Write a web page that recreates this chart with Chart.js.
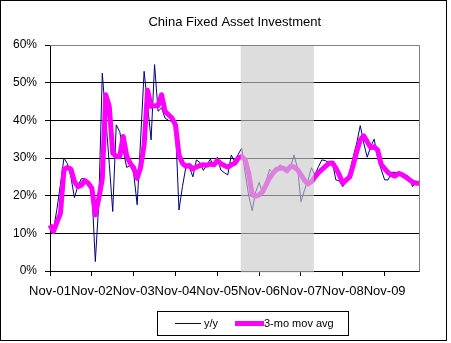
<!DOCTYPE html>
<html>
<head>
<meta charset="utf-8">
<script src="https://cdn.jsdelivr.net/npm/chart.js@4.4.1/dist/chart.umd.min.js"></script>
<style>
  html, body { margin: 0; padding: 0; background: #fff; }
</style>
</head>
<body>
<canvas id="fai" width="451" height="343"></canvas>
<script>
const months = [
  'Nov-01','Dec-01',
  'Jan-02','Feb-02','Mar-02','Apr-02','May-02','Jun-02','Jul-02','Aug-02','Sep-02','Oct-02','Nov-02','Dec-02',
  'Jan-03','Feb-03','Mar-03','Apr-03','May-03','Jun-03','Jul-03','Aug-03','Sep-03','Oct-03','Nov-03','Dec-03',
  'Jan-04','Feb-04','Mar-04','Apr-04','May-04','Jun-04','Jul-04','Aug-04','Sep-04','Oct-04','Nov-04','Dec-04',
  'Jan-05','Feb-05','Mar-05','Apr-05','May-05','Jun-05','Jul-05','Aug-05','Sep-05','Oct-05','Nov-05','Dec-05',
  'Jan-06','Feb-06','Mar-06','Apr-06','May-06','Jun-06','Jul-06','Aug-06','Sep-06','Oct-06','Nov-06','Dec-06',
  'Jan-07','Feb-07','Mar-07','Apr-07','May-07','Jun-07','Jul-07','Aug-07','Sep-07','Oct-07','Nov-07','Dec-07',
  'Jan-08','Feb-08','Mar-08','Apr-08','May-08','Jun-08','Jul-08','Aug-08','Sep-08','Oct-08','Nov-08','Dec-08',
  'Jan-09','Feb-09','Mar-09','Apr-09','May-09','Jun-09','Jul-09','Aug-09','Sep-09','Oct-09','Nov-09','Dec-09',
  'Jan-10','Feb-10','Mar-10','Apr-10','May-10','Jun-10','Jul-10','Aug-10','Sep-10'
];

// year-on-year growth, %
const yoy = [
  9.5, 11, 16.5, 23, 30, 28.5, 25, 19.5, 22.5, 24.5, 24.5, 23, 21.5, 2.5,
  18, 52.5, 40.5, 28.5, 15.8, 38.8, 37, 32, 27.5, 28, 26, 17.6,
  35, 53, 44, 34.8, 54.8, 42.4, 43.3, 40.6, 40, 39.7, 38.5, 16.2,
  22.4, 27.7, 27.5, 25, 29.5, 28.8, 26.7, 28.2, 29.7, 27.8, 30.2, 26.8,
  26.1, 25.5, 30.8, 29, 31, 32.6, 26, 20, 16, 21, 23.5, 20.5,
  24, 27, 26, 27, 28.2, 27.4, 26.6, 27.4, 30.8, 27.4, 18.4, 21.5,
  24, 27.4, 25.5, 27.7, 29.5, 29.3, 28.8, 29, 24.2, 23.9, 22.4, 24.2,
  26.4, 30.4, 34, 38.6, 34, 30.2, 33, 35, 30, 27, 24.2, 24.2,
  26.2, 26.2, 26, 25.5, 25.5, 25, 22.4, 23.7, 23.4
];

// 3-month moving average, %
const avg3 = [
  12.2, 10.5, 13, 15.3, 26.9, 27.5, 27, 23.8, 22.4, 22.8, 24, 23.3, 22, 14.9,
  19.3, 24.5, 46.8, 43.7, 31.3, 30.4, 30.4, 35.7, 30.6, 28.6, 27.4, 24.6,
  27.5, 33.5, 48, 43.7, 43.9, 43.9, 46.8, 42.4, 41.5, 40.6, 38.8, 30.8,
  28.6, 27.8, 28, 27.1, 27.6, 28, 28.2, 28.1, 28.4, 28.2, 29.3, 28.5,
  28, 27.6, 28.2, 28.6, 30, 30.4, 29.5, 26, 20.2, 19.9, 20.2, 21.1,
  22.9, 24.7, 26, 27, 27.3, 27.3, 26.6, 27.8, 27.6, 26.9, 25.5, 24.1,
  23.1, 23.7, 25, 26.1, 26.9, 27.8, 28.6, 28.7, 27.3, 25.5, 23.3, 24.2,
  25, 28.2, 31.7, 34.8, 35.9, 34.3, 32.8, 33, 32.1, 28.3, 27.2, 26.1,
  25.5, 25.2, 25.9, 25.6, 25, 24.3, 23.6, 23.3, 23.3
];

const yTicks = [0, 10, 20, 30, 40, 50, 60];
// shaded period, in month positions along the axis
const shadeRange = [54.7, 75.7];

const titleText = 'China Fixed Asset Investment';
const FONT = 'Arial, "Liberation Sans", sans-serif';

const chrome = {
  id: 'chrome',
  beforeDraw(chart) {
    const c = chart.ctx;
    c.save();
    c.fillStyle = '#fff';
    c.fillRect(0, 0, chart.width, chart.height);
    c.restore();
  },
  afterDatasetsDraw(chart) {
    const c = chart.ctx, a = chart.chartArea, x = chart.scales.x;
    const x0 = x.getPixelForValue(shadeRange[0]);
    const x1 = x.getPixelForValue(shadeRange[1]);
    c.save();
    // translucent grey band over the lines
    c.fillStyle = 'rgba(201,201,201,0.635)';
    c.fillRect(x0, a.top, x1 - x0, a.bottom - a.top + 1.5);
    // plot frame, top and right
    c.strokeStyle = '#808080';
    c.lineWidth = 1;
    c.beginPath();
    c.moveTo(a.left, Math.round(a.top) + 0.5);
    c.lineTo(Math.floor(a.right) + 0.5, Math.round(a.top) + 0.5);
    c.lineTo(Math.floor(a.right) + 0.5, Math.round(a.bottom) + 0.5);
    c.stroke();
    c.restore();
  },
  afterDraw(chart) {
    const c = chart.ctx, a = chart.chartArea;
    const ds = chart.data.datasets;
    c.save();
    // title
    c.fillStyle = '#000';
    c.font = '13px ' + FONT;
    c.textAlign = 'center';
    c.textBaseline = 'middle';
    c.fillText(titleText, (a.left + a.right) / 2, 22);

    // legend
    c.strokeStyle = '#000';
    c.lineWidth = 1;
    c.strokeRect(157.5, 311.5, 191, 24);
    c.font = '11px ' + FONT;
    c.textAlign = 'left';
    c.lineCap = 'butt';
    c.strokeStyle = ds[0].borderColor;
    c.lineWidth = ds[0].borderWidth;
    c.beginPath(); c.moveTo(175, 323.5); c.lineTo(201, 323.5); c.stroke();
    c.fillText(ds[0].label, 204, 324);
    c.strokeStyle = ds[1].borderColor;
    c.lineWidth = ds[1].borderWidth;
    c.beginPath(); c.moveTo(235, 323.5); c.lineTo(264, 323.5); c.stroke();
    c.fillText(ds[1].label, 264, 324);

    // outer chart border
    c.strokeStyle = '#000';
    c.lineWidth = 1;
    c.strokeRect(0.5, 0.5, 446, 340);
    c.restore();
  }
};

new Chart(document.getElementById('fai'), {
  type: 'line',
  data: {
    labels: months,
    datasets: [
      {
        label: 'y/y',
        data: yoy,
        borderColor: '#000080',
        borderWidth: 1,
        pointRadius: 0,
        tension: 0,
        order: 1
      },
      {
        label: '3-mo mov avg',
        data: avg3,
        borderColor: '#FF00FF',
        borderWidth: 5,
        borderJoinStyle: 'round',
        pointRadius: 0,
        tension: 0,
        order: 0
      }
    ]
  },
  options: {
    responsive: false,
    animation: false,
    devicePixelRatio: 1,
    layout: { padding: { top: 45, right: 31.5, bottom: 22, left: 0 } },
    plugins: {
      legend: { display: false },
      title: { display: false },
      tooltip: { enabled: false }
    },
    scales: {
      x: {
        type: 'category',
        offset: false,
        border: { color: '#000', width: 1 },
        grid: {
          drawOnChartArea: false,
          tickLength: 5,
          tickColor: ctx => (ctx.index % 12 === 0 ? '#000' : 'rgba(0,0,0,0)')
        },
        ticks: {
          autoSkip: false,
          maxRotation: 0,
          minRotation: 0,
          padding: 8,
          color: '#000',
          font: { family: FONT, size: 13 },
          callback(v, i) { return i % 12 === 0 ? this.getLabelForValue(v) : ''; }
        },
        afterFit(scale) { scale.height = 50; }
      },
      y: {
        min: yTicks[0],
        max: yTicks[yTicks.length - 1],
        border: { color: '#000', width: 1 },
        grid: {
          color: ctx => (ctx.tick && ctx.tick.value === 60 ? '#808080' : '#000'),
          tickColor: '#000',
          tickLength: 5
        },
        afterBuildTicks(scale) { scale.ticks = yTicks.map(v => ({ value: v })); },
        ticks: {
          padding: 8,
          color: '#000',
          font: { family: FONT, size: 12 },
          callback: v => v + '%'
        },
        afterFit(scale) { scale.width = 50; }
      }
    }
  },
  plugins: [chrome]
});
</script>
</body>
</html>
